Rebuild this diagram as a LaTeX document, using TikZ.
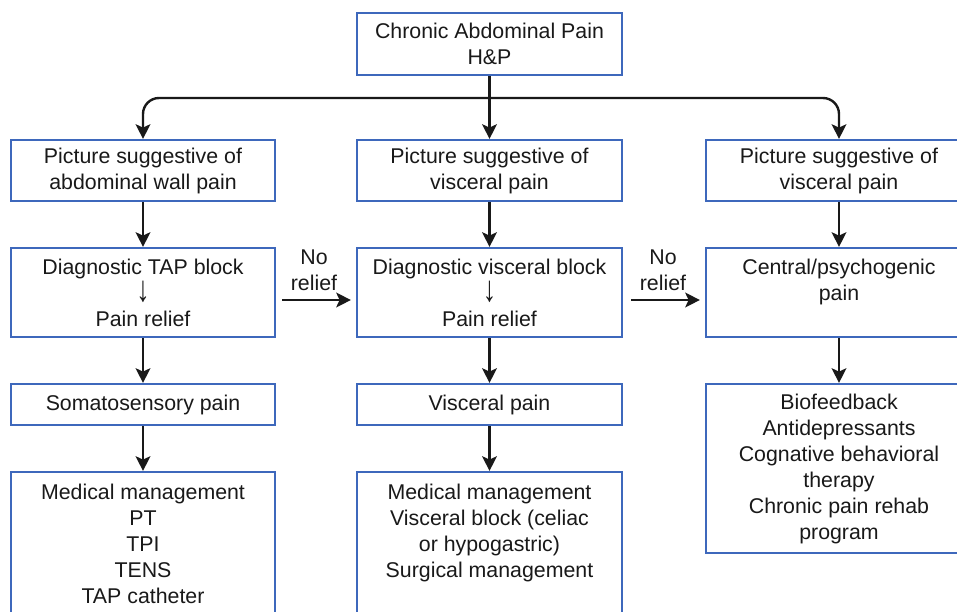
\documentclass[tikz,border=0pt]{standalone}
\usepackage{fontspec}
\setmainfont{Liberation Sans}
\usetikzlibrary{arrows.meta,calc}
\definecolor{boxblue}{RGB}{62,104,188}
\definecolor{inkgray}{RGB}{25,25,25}
\newcommand{\dnarrow}{\smash{\raisebox{-0.1ex}{\scalebox{1.25}[1.7]{↓}}}}
\tikzset{
  box/.style={draw=boxblue, line width=1.6pt, fill=white, align=center, text=inkgray,
    inner sep=0pt, font=\fontsize{16}{19.5}\selectfont},
  colL/.style={minimum width=198pt},
  colM/.style={minimum width=198.75pt},
  colR/.style={minimum width=199.5pt},
  arr/.style={draw=inkgray, line width=1.8pt, -{Stealth[length=11pt,width=11pt,inset=2.5pt]}},
  lbl/.style={align=center, text=inkgray, inner sep=0pt, font=\fontsize{16}{19.5}\selectfont}
}
\begin{document}
\begin{tikzpicture}[x=0.75pt,y=-0.75pt]
\useasboundingbox (0,0) rectangle (957,611);
\clip (0,0) rectangle (957,611);
% top
\node[box, minimum width=198.75pt, minimum height=46.5pt] (top) at (489.5,44) {Chronic Abdominal Pain\\H\&P};
% row 1
\node[box, colL, minimum height=45.75pt] (l1) at (143,170.5) {Picture suggestive of\\abdominal wall pain};
\node[box, colM, minimum height=45.75pt] (m1) at (489.5,170.5) {Picture suggestive of\\visceral pain};
\node[box, colR, minimum height=45.75pt] (r1) at (839,170.5) {Picture suggestive of\\visceral pain};
% row 2
\node[box, colL, minimum height=66.75pt] (l2) at (143,292.5) {Diagnostic TAP block\\\dnarrow\\Pain relief};
\node[box, colM, minimum height=66.75pt] (m2) at (489.5,292.5) {Diagnostic visceral block\\\dnarrow\\Pain relief};
\node[box, colR, minimum height=66.75pt] (r2) at (839,292.5) {Central/psychogenic\\pain\\\mbox{}};
% row 3
\node[box, colL, minimum height=30.75pt] (l3) at (143,404.5) {Somatosensory pain};
\node[box, colM, minimum height=30.75pt] (m3) at (489.5,404.5) {Visceral pain};
\node[box, colR, minimum height=126.75pt] (r3) at (839,468.5) {Biofeedback\\Antidepressants\\Cognative behavioral\\therapy\\Chronic pain rehab\\program};
% row 4
\node[box, colL, minimum height=108pt] (l4) at (143,544) {Medical management\\PT\\TPI\\TENS\\TAP catheter};
\node[box, colM, minimum height=108pt] (m4) at (489.5,544) {Medical management\\Visceral block (celiac\\or hypogastric)\\Surgical management\\\mbox{}};
% branch
\coordinate (br) at (489.5,98);
\draw[arr] (top.south) -- (m1.north);
\draw[arr, rounded corners=12] (br) -| (l1.north);
\draw[arr, rounded corners=12] (br) -| (r1.north);
% vertical
\draw[arr] (l1.south) -- (l2.north);
\draw[arr] (m1.south) -- (m2.north);
\draw[arr] (r1.south) -- (r2.north);
\draw[arr] (l2.south) -- (l3.north);
\draw[arr] (m2.south) -- (m3.north);
\draw[arr] (r2.south) -- (r3.north);
\draw[arr] (l3.south) -- (l4.north);
\draw[arr] (m3.south) -- (m4.north);
% no relief
\coordinate (a1s) at ($(l2.east)+(6,7.5)$);
\coordinate (a1e) at ($(m2.west)+(-5,7.5)$);
\draw[arr] (a1s) -- (a1e);
\node[lbl] (nr1) at (314,270.5) {No\\relief};
\coordinate (a2s) at ($(m2.east)+(8,7.5)$);
\coordinate (a2e) at ($(r2.west)+(-5,7.5)$);
\draw[arr] (a2s) -- (a2e);
\node[lbl] (nr2) at (663,270.5) {No\\relief};
\end{tikzpicture}
\end{document}
